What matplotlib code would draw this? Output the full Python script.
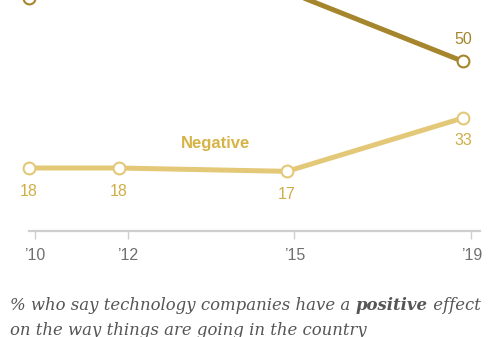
import matplotlib.pyplot as plt

# survey dates (fractional years) and year ticks
survey_x = [2010.0, 2011.87, 2015.35, 2019.0]
tick_x = [2010.12, 2012.05, 2015.5, 2019.17]
tick_labels = ["\u201910", "\u201912", "\u201915", "\u201919"]
positive = [69, 72, 71, 50]
negative = [18, 18, 17, 33]

pos_color = "#a6862c"
neg_color = "#e3c878"
neg_text = "#d0ad47"

fig = plt.figure(figsize=(5, 3.37), dpi=100)
ax = fig.add_axes([0.058, 0.3145, 0.902, 0.6855])
ax.set_xlim(2010, 2019.353)
ax.set_ylim(-0.9, 68.4)

ax.plot(survey_x, positive, color=pos_color, lw=3.6, marker="o", ms=8.5,
        mfc="white", mec=pos_color, mew=1.5, clip_on=False, zorder=3)
ax.plot(survey_x, negative, color=neg_color, lw=3.6, marker="o", ms=8.5,
        mfc="white", mec=neg_color, mew=1.5, clip_on=False, zorder=3)

# value labels
for x, v in zip(survey_x, negative):
    off = -16 if v == negative[-1] else -17
    ax.annotate(str(v), (x, v), xytext=(0, off), textcoords="offset points",
                ha="center", va="center", fontsize=11.5, color=neg_text,
                family="Liberation Sans")
ax.annotate(str(positive[-1]), (survey_x[-1], positive[-1]), xytext=(0, 16),
            textcoords="offset points", ha="center", va="center",
            fontsize=11.5, color=pos_color, family="Liberation Sans")

ax.text(2013.86, 25.4, "Negative", ha="center", va="center", fontsize=12,
        fontweight="bold", color="#d6b345", family="Liberation Sans")

for s in ["top", "right", "left"]:
    ax.spines[s].set_visible(False)
ax.spines["bottom"].set_color("#cfcfcf")
ax.spines["bottom"].set_linewidth(1.6)
ax.set_yticks([])
ax.set_xticks(tick_x)
ax.set_xticklabels(tick_labels, family="Liberation Sans", fontsize=11.5,
                   color="#707070")
ax.tick_params(axis="x", direction="out", length=6, width=1, color="#cfcfcf",
               pad=6)

fs = 11.9
y1 = 0.092
fig.text(0.02, y1, "% who say technology companies have a ", ha="left",
         va="center", fontsize=fs, style="italic", color="#555555",
         family="DejaVu Serif")
fig.canvas.draw()
x1 = fig.texts[-1].get_window_extent().x1 / fig.bbox.width
fig.text(x1, y1, "positive", ha="left", va="center", fontsize=fs,
         style="italic", fontweight="bold", color="#555555", family="DejaVu Serif")
fig.canvas.draw()
x2 = fig.texts[-1].get_window_extent().x1 / fig.bbox.width
fig.text(x2, y1, " effect", ha="left", va="center", fontsize=fs,
         style="italic", color="#555555", family="DejaVu Serif")
fig.text(0.02, 0.018, "on the way things are going in the country", ha="left",
         va="center", fontsize=fs, style="italic", color="#555555",
         family="DejaVu Serif")

fig.savefig("out.png", dpi=100)
